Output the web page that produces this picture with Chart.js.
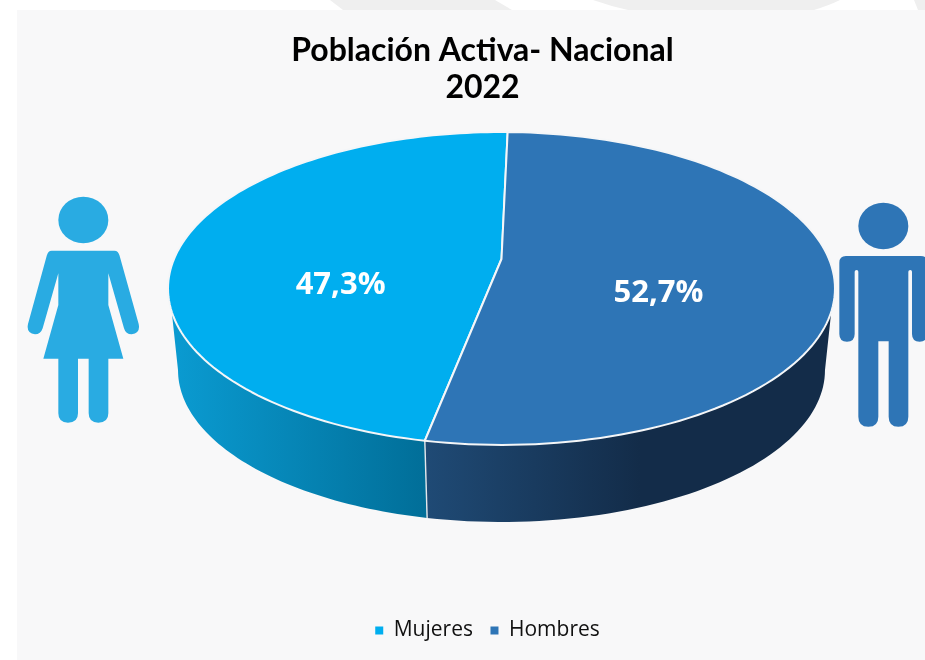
<!DOCTYPE html>
<html><head><meta charset="utf-8">
<style>
html,body{margin:0;padding:0;background:#fff;width:925px;height:660px;overflow:hidden}
#bg{position:absolute;left:0;top:0}
#wrap{position:absolute;left:0;top:0;width:925px;height:660px}
</style>
<script src="https://cdn.jsdelivr.net/npm/chart.js@4/dist/chart.umd.min.js"></script>
</head><body>
<svg id="bg" width="925" height="660" viewBox="0 0 925 660">
  <polygon points="330,0 495,0 512,10 343,10" fill="#efefef"/>
  <path d="M593,0 L840,0 Q830,5 814,10 L628,10 Q610,6 593,0 Z" fill="#efefef"/>
  <polygon points="914,0 925,0 925,10 918,10" fill="#efefef"/>
  <rect x="17" y="10" width="908" height="650" fill="#f8f8f9"/>
  <g transform="translate(10,180) scale(0.33333)" fill="#29abe2">
    <ellipse cx="220" cy="120" rx="75" ry="70"/>
    <path d="M125,212 L313,212 Q325,212 329,228 L386,432 Q392,460 365,463 Q347,463 342,445 L295,280 L295,375 L340,536 L295,536 L295,700 Q295,728 265,728 Q236,728 236,700 L236,536 L204,536 L204,700 Q204,728 174,728 Q145,728 145,700 L145,536 L100,536 L145,375 L145,280 L98,445 Q92,463 75,463 Q48,460 54,432 L110,228 Q114,212 125,212 Z"/>
  </g>
  <g transform="translate(825,190) scale(0.33333)" fill="#2e75b6">
    <ellipse cx="175" cy="108" rx="75" ry="70"/>
    <path d="M63,198 L287,198 Q307,198 307,218 L307,432 Q307,455 284,455 Q261,455 261,432 L261,245 Q261,240 256,240 Q250,240 250,245 L250,680 Q250,710 220,710 Q191,710 191,680 L191,454 L160,454 L160,680 Q160,710 130,710 Q100,710 100,680 L100,245 Q100,240 95,240 Q89,240 89,245 L89,432 Q89,455 66,455 Q43,455 43,432 L43,218 Q43,198 63,198 Z"/>
  </g>
</svg>
<div id="wrap"><canvas id="c" width="925" height="660"></canvas></div>
<script>
const categories = ['Mujeres', 'Hombres'];
const values = [47.3, 52.7];
const titleLines = ['Población Activa- Nacional', '2022'];
const faceColors = ['#00aeef', '#2e75b6'];

// Perspective projection of the unit disc, fitted to the drawing
const P = {cx: 501.5, cy: 259, A: 150.9, B: 327.5, k: -0.1885, s: 0.97, dy: 82.6};
const deg = Math.PI / 180;
function upperPt(a) {            // a = Chart.js arc angle (radians, 0 = east)
  const x = Math.cos(a), y = Math.sin(a), w = 1 + P.k * y;
  return [P.cx + P.B * x / w, P.cy + P.A * y / w];
}
function lowerPt(a) {
  const x = Math.cos(a), y = Math.sin(a), w = 1 + P.k * y;
  return [P.cx + P.s * P.B * x / w, P.cy + P.dy + P.s * P.A * y / w];
}
function sweep(ctx, fn, a0, a1, n, first) {
  for (let i = 0; i <= n; i++) {
    const p = fn(a0 + (a1 - a0) * i / n);
    (i === 0 && first) ? ctx.moveTo(p[0], p[1]) : ctx.lineTo(p[0], p[1]);
  }
}
const leftTop = 160.8 * deg, leftLow = 169.1 * deg;   // silhouette of the rim, left
const rightTop = 19.2 * deg, rightLow = 10.9 * deg;   // silhouette of the rim, right

const pie3d = {
  id: 'pie3d',
  afterLayout(chart) {            // legend sits a little right of the title's centre
    chart.legend.left += 5; chart.legend.right += 5;
  },
  beforeDatasetDraw(chart, args) {
    const ctx = chart.ctx, arcs = chart.getDatasetMeta(args.index).data;
    const seam = arcs[0].startAngle;          // front seam, between Hombres and Mujeres
    ctx.save();
    ctx.lineJoin = 'round';

    // rim, Mujeres
    let g = ctx.createLinearGradient(178, 0, 427, 0);
    g.addColorStop(0, '#0a9ad0'); g.addColorStop(1, '#016e98');
    ctx.fillStyle = g;
    ctx.beginPath();
    sweep(ctx, upperPt, seam, leftTop, 60, true);
    sweep(ctx, lowerPt, leftLow, seam, 60, false);
    ctx.closePath(); ctx.fill();

    // rim, Hombres
    g = ctx.createLinearGradient(427, 0, 640, 0);
    g.addColorStop(0, '#1f4a75'); g.addColorStop(1, '#132c49');
    ctx.fillStyle = g;
    ctx.beginPath();
    sweep(ctx, upperPt, rightTop, seam, 60, true);
    sweep(ctx, lowerPt, seam, rightLow, 60, false);
    ctx.closePath(); ctx.fill();

    // wall seam
    ctx.strokeStyle = '#e4e8ec'; ctx.lineWidth = 1.4;
    const a = upperPt(seam), b = lowerPt(seam);
    ctx.beginPath(); ctx.moveTo(a[0], a[1]); ctx.lineTo(b[0], b[1]); ctx.stroke();

    // top faces
    arcs.forEach((el, i) => {
      ctx.beginPath();
      ctx.moveTo(P.cx, P.cy);
      sweep(ctx, upperPt, el.startAngle, el.endAngle, 120, false);
      ctx.closePath();
      ctx.fillStyle = faceColors[i];
      ctx.fill();
      ctx.strokeStyle = '#f4f6f8'; ctx.lineWidth = 2;
      ctx.stroke();
    });

    // value labels
    ctx.fillStyle = '#fff';
    ctx.font = 'bold 31px "Open Sans"';
    ctx.textAlign = 'center'; ctx.textBaseline = 'middle';
    arcs.forEach((el, i) => {
      const mid = (el.startAngle + el.endAngle) / 2;
      const x = P.cx - 2 + P.B * 0.488 * Math.cos(mid);
      const y = 289 + P.A * 0.26 * Math.sin(mid);
      ctx.fillText(values[i].toFixed(1).replace('.', ',') + '%', x, y);
    });
    ctx.restore();
    return false;
  }
};

new Chart(document.getElementById('c'), {
  type: 'pie',
  data: {
    labels: categories,
    datasets: [{data: values, backgroundColor: faceColors, borderWidth: 0, rotation: 191}]
  },
  plugins: [pie3d],
  options: {
    responsive: false,
    animation: false,
    events: [],
    layout: {padding: {left: 40, right: 0, top: 32, bottom: 9}},
    plugins: {
      tooltip: {enabled: false},
      title: {
        display: true, text: titleLines, color: '#000',
        font: {family: 'Lato', weight: 'bold', size: 32, lineHeight: 1.17},
        padding: {top: 0, bottom: 10}
      },
      legend: {
        position: 'bottom',
        labels: {boxWidth: 8, boxHeight: 8, padding: 17.5, color: '#111',
                 font: {family: '"Open Sans"', size: 21}}
      }
    }
  }
});
</script>
</body></html>
